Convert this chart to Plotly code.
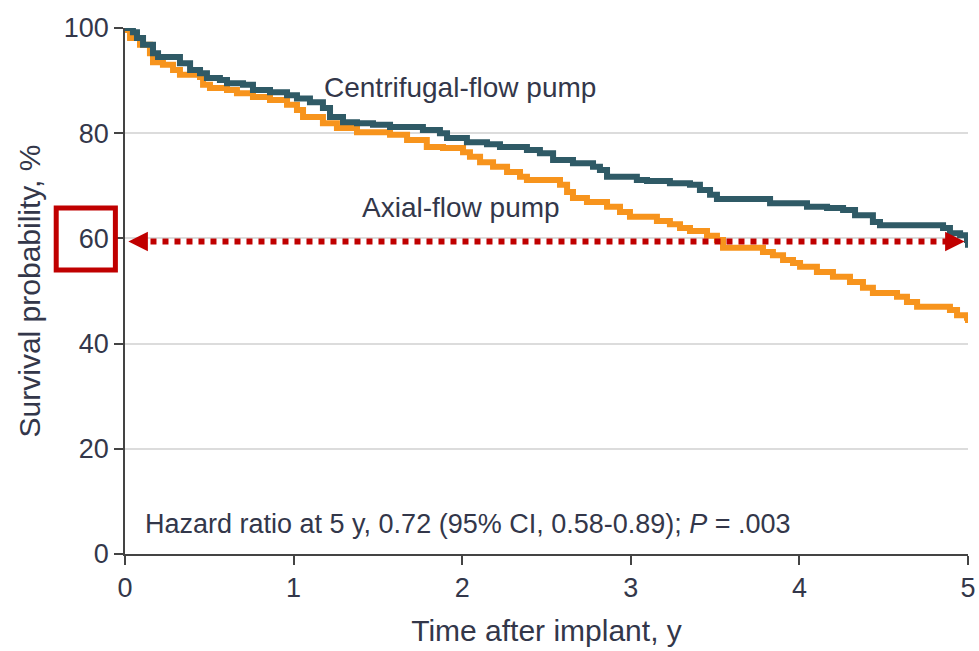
import plotly.graph_objects as go

# Kaplan-Meier step data
centrifugal_t = [0, 0.047, 0.071, 0.107, 0.166, 0.196, 0.326, 0.386, 0.445, 0.486, 0.563, 0.605,
                 0.700, 0.759, 0.860, 0.961, 1.02, 1.097, 1.174, 1.216, 1.293, 1.376, 1.471, 1.572,
                 1.767, 1.868, 1.91, 2.028, 2.147, 2.224, 2.384, 2.461, 2.539, 2.657, 2.776, 2.817,
                 2.859, 3.036, 3.096, 3.232, 3.351, 3.41, 3.47, 3.511, 3.826, 4.045, 4.164, 4.259,
                 4.33, 4.436, 4.478, 4.852, 4.893, 4.953, 4.994, 5.0]
centrifugal_s = [100, 99.2, 98.1, 96.8, 95.2, 94.5, 93.3, 92.0, 91.4, 90.5, 90.1, 89.5,
                 89.2, 88.2, 87.8, 87.2, 86.6, 85.9, 84.8, 83.1, 82.1, 81.9, 81.6, 81.2,
                 80.6, 80.0, 79.1, 78.3, 77.9, 77.4, 76.8, 76.2, 74.9, 74.3, 73.6, 73.0,
                 71.7, 71.1, 70.9, 70.5, 70.2, 69.2, 68.3, 67.5, 66.7, 66.0, 65.8, 65.4,
                 64.4, 63.1, 62.5, 62.0, 61.0, 60.6, 59.7, 58.2]

axial_t = [0, 0.03, 0.089, 0.148, 0.166, 0.225, 0.285, 0.326, 0.445, 0.463, 0.504, 0.605,
           0.664, 0.759, 0.86, 0.961, 1.02, 1.056, 1.174, 1.257, 1.376, 1.572, 1.673, 1.79,
           1.886, 2.005, 2.046, 2.106, 2.183, 2.266, 2.343, 2.384, 2.58, 2.622, 2.657, 2.74,
           2.859, 2.936, 2.995, 3.155, 3.232, 3.292, 3.351, 3.452, 3.511, 3.547, 3.784, 3.843,
           3.903, 3.962, 4.004, 4.104, 4.199, 4.3, 4.377, 4.436, 4.579, 4.638, 4.698, 4.893,
           4.935, 4.994, 5.0]
axial_s = [99.6, 98.1, 96.8, 95.2, 93.5, 93.0, 92.0, 91.1, 90.7, 89.2, 88.6, 88.2,
           87.6, 86.9, 86.3, 85.4, 84.4, 83.1, 81.9, 81.0, 80.2, 79.7, 78.7, 77.4,
           77.2, 76.4, 75.5, 74.5, 73.6, 72.6, 71.7, 71.1, 70.2, 68.8, 67.7, 66.9,
           66.0, 65.0, 64.1, 63.3, 62.7, 62.0, 61.4, 60.5, 59.7, 58.2, 57.4, 56.8,
           55.9, 55.3, 54.6, 53.6, 52.7, 51.7, 50.6, 49.6, 48.9, 47.9, 47.0, 46.4,
           45.4, 44.9, 43.9]

x_ticks = [0, 1, 2, 3, 4, 5]
y_ticks = [0, 20, 40, 60, 80, 100]
arrow_y = 59.4
arrow_x = [0.02, 4.98]

TEAL = "#2f5a66"
ORANGE = "#f7941d"
RED = "#c00000"
TXT = "#33374a"
FONT = "Liberation Sans, Arial, sans-serif"

fig = go.Figure()
fig.add_trace(go.Scatter(x=axial_t, y=axial_s, mode="lines", line=dict(color=ORANGE, width=6, shape="hv"),
                         cliponaxis=False, showlegend=False, hoverinfo="skip"))
fig.add_trace(go.Scatter(x=centrifugal_t, y=centrifugal_s, mode="lines", line=dict(color=TEAL, width=6, shape="hv"),
                         cliponaxis=False, showlegend=False, hoverinfo="skip"))

# dotted arrow
fig.add_shape(type="line", xref="x", yref="y", x0=arrow_x[0] + 0.06, x1=arrow_x[1] - 0.06,
              y0=arrow_y, y1=arrow_y, line=dict(color=RED, width=6, dash="6px,6px"))
for tip, tail in [(arrow_x[1], arrow_x[1] - 0.08), (arrow_x[0], arrow_x[0] + 0.08)]:
    fig.add_annotation(x=tip, y=arrow_y, ax=tail, ay=arrow_y, axref="x", ayref="y", xref="x", yref="y",
                       text="", showarrow=True, arrowhead=2, arrowsize=1.3, arrowwidth=3, arrowcolor=RED)

# red box around 60
fig.add_shape(type="rect", xref="paper", yref="paper", x0=-0.0816, x1=-0.0114, y0=0.54, y1=0.658,
              line=dict(color=RED, width=5))

fig.add_annotation(x=1.168, y=88.6, xref="x", yref="y", text="Centrifugal-flow pump", showarrow=False,
                   xanchor="left", yanchor="middle", font=dict(family=FONT, size=28, color=TXT))
fig.add_annotation(x=1.394, y=65.8, xref="x", yref="y", text="Axial-flow pump", showarrow=False,
                   xanchor="left", yanchor="middle", font=dict(family=FONT, size=28, color=TXT))
fig.add_annotation(x=0.107, y=5.7, xref="x", yref="y",
                   text="Hazard ratio at 5 y, 0.72 (95% CI, 0.58-0.89); <i>P</i> = .003", showarrow=False,
                   xanchor="left", yanchor="middle", font=dict(family=FONT, size=27, color=TXT))

fig.update_xaxes(range=[0, 5], tickvals=x_ticks, ticks="outside", ticklen=9, tickwidth=1.5, tickcolor="#444",
                 showline=True, linecolor="#444", linewidth=1.5, showgrid=False, zeroline=False, automargin=False,
                 tickfont=dict(family=FONT, size=27, color=TXT),
                 title=dict(text="Time after implant, y", font=dict(family=FONT, size=30, color=TXT), standoff=18))
fig.update_yaxes(range=[0, 100], tickvals=y_ticks, ticks="outside", ticklen=9, tickwidth=1.5, tickcolor="#444",
                 showline=True, linecolor="#444", linewidth=1.5, showgrid=True, gridcolor="#dcdcdc", gridwidth=2,
                 zeroline=False, automargin=False, tickfont=dict(family=FONT, size=27, color=TXT),
                 title=dict(text="Survival probability, %", font=dict(family=FONT, size=30, color=TXT), standoff=14))

fig.update_layout(width=979, height=651, margin=dict(l=125, r=11, t=28, b=97),
                  plot_bgcolor="white", paper_bgcolor="white")

fig.write_html("out.html")
